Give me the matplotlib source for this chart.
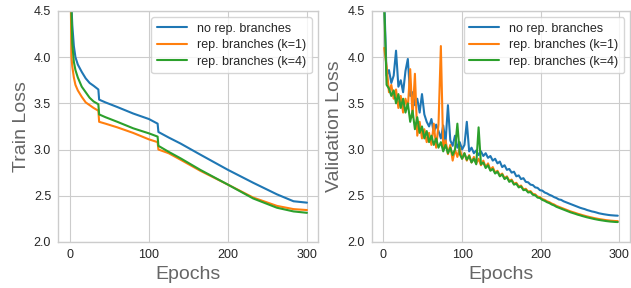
import matplotlib.pyplot as plt
import numpy as np

# Train loss (left panel) at key epochs
train_epochs = [1, 2, 3, 5, 7, 10, 15, 20, 25, 30, 36, 37, 45, 60, 80, 100,
                111, 112, 125, 140, 165, 200, 232, 262, 283, 300]
train_none = [4.95, 4.55, 4.35, 4.12, 4.0, 3.92, 3.84, 3.77, 3.72, 3.69, 3.65, 3.54,
              3.51, 3.46, 3.39, 3.33, 3.28, 3.19, 3.13, 3.065, 2.945, 2.78, 2.64,
              2.515, 2.44, 2.425]
train_k1 = [4.7, 4.0, 3.9, 3.78, 3.70, 3.64, 3.57, 3.51, 3.48, 3.45, 3.42, 3.30,
            3.28, 3.24, 3.18, 3.11, 3.08, 3.00, 2.96, 2.89, 2.77, 2.62, 2.48,
            2.39, 2.355, 2.345]
train_k4 = [4.9, 4.5, 4.15, 3.95, 3.86, 3.78, 3.68, 3.62, 3.56, 3.52, 3.49, 3.38,
            3.35, 3.30, 3.23, 3.175, 3.14, 3.04, 2.975, 2.905, 2.78, 2.62, 2.47,
            2.37, 2.33, 2.315]

# Validation loss (right panel), every 3rd epoch
val_epochs = list(range(1, 301, 3))
val_none = [4.62, 3.80, 3.86, 3.72, 3.80, 4.07, 3.68, 3.75, 3.62, 3.85,
            3.98, 3.58, 3.62, 3.48, 3.55, 3.40, 3.60, 3.38, 3.30, 3.25,
            3.33, 3.18, 3.27, 3.20, 3.12, 3.26, 3.08, 3.48, 3.10, 3.04,
            3.15, 3.02, 3.08, 3.00, 3.05, 3.30, 2.98, 3.02, 2.96, 2.99,
            2.94, 2.98, 2.93, 2.96, 2.91, 2.93, 2.88, 2.90, 2.85, 2.87,
            2.81, 2.83, 2.78, 2.79, 2.75, 2.76, 2.71, 2.72, 2.68, 2.69,
            2.65, 2.645, 2.62, 2.615, 2.59, 2.585, 2.56, 2.555, 2.535, 2.525,
            2.51, 2.50, 2.485, 2.475, 2.46, 2.455, 2.44, 2.43, 2.42, 2.41,
            2.40, 2.39, 2.38, 2.37, 2.362, 2.355, 2.345, 2.338, 2.33, 2.325,
            2.318, 2.31, 2.305, 2.30, 2.296, 2.292, 2.289, 2.287, 2.285, 2.284]
val_k1 = [4.10, 3.90, 3.62, 3.70, 3.55, 3.65, 3.45, 3.58, 3.40, 3.55,
          3.45, 3.87, 3.35, 3.82, 3.15, 3.30, 3.12, 3.22, 3.08, 3.18,
          3.05, 3.28, 3.02, 3.27, 4.12, 3.00, 3.10, 2.95, 3.05, 2.88,
          3.00, 2.92, 3.02, 2.90, 2.96, 2.88, 2.94, 2.86, 2.92, 2.85,
          2.90, 2.83, 2.88, 2.81, 2.85, 2.78, 2.81, 2.75, 2.77, 2.72,
          2.74, 2.69, 2.71, 2.66, 2.675, 2.63, 2.64, 2.60, 2.61, 2.57,
          2.575, 2.545, 2.55, 2.52, 2.515, 2.49, 2.485, 2.465, 2.455, 2.44,
          2.43, 2.415, 2.405, 2.39, 2.38, 2.37, 2.36, 2.35, 2.34, 2.33,
          2.322, 2.314, 2.305, 2.298, 2.29, 2.283, 2.276, 2.27, 2.264, 2.258,
          2.253, 2.248, 2.244, 2.24, 2.236, 2.233, 2.23, 2.228, 2.226, 2.225]
val_k4 = [4.55, 3.70, 3.66, 3.58, 3.64, 3.50, 3.60, 3.45, 3.55, 3.40,
          3.50, 3.30, 3.42, 3.22, 3.35, 3.18, 3.25, 3.12, 3.20, 3.08,
          3.15, 3.05, 3.12, 3.02, 3.08, 2.98, 3.05, 2.96, 3.02, 2.94,
          3.00, 3.28, 2.95, 2.90, 2.96, 2.89, 2.93, 2.86, 2.90, 2.84,
          3.24, 2.84, 2.86, 2.80, 2.83, 2.77, 2.79, 2.74, 2.76, 2.71,
          2.73, 2.68, 2.70, 2.65, 2.665, 2.62, 2.63, 2.59, 2.60, 2.56,
          2.565, 2.535, 2.54, 2.51, 2.505, 2.48, 2.475, 2.455, 2.445, 2.43,
          2.42, 2.405, 2.395, 2.38, 2.37, 2.36, 2.35, 2.34, 2.33, 2.32,
          2.312, 2.304, 2.295, 2.288, 2.28, 2.273, 2.266, 2.26, 2.254, 2.248,
          2.243, 2.238, 2.234, 2.23, 2.226, 2.223, 2.22, 2.218, 2.216, 2.215]

labels = ['no rep. branches', 'rep. branches (k=1)', 'rep. branches (k=4)']
colors = ['#1f77b4', '#ff7f0e', '#2ca02c']

plt.style.use('seaborn-v0_8-whitegrid')
plt.rcParams['font.family'] = ['Liberation Sans', 'DejaVu Sans']
fig = plt.figure(figsize=(6.31, 2.88), dpi=100)
ax1 = fig.add_axes([0.092, 0.160, 0.412, 0.802])
ax2 = fig.add_axes([0.589, 0.160, 0.410, 0.802])

for s, lab, c in zip([train_none, train_k1, train_k4], labels, colors):
    ax1.plot(train_epochs, s, color=c, lw=1.5, label=lab)
for s, lab, c in zip([val_none, val_k1, val_k4], labels, colors):
    ax2.plot(val_epochs, s, color=c, lw=1.5, label=lab)

for ax, yl in [(ax1, 'Train Loss'), (ax2, 'Validation Loss')]:
    ax.set_xlim(-15, 314)
    ax.set_ylim(2.0, 4.5)
    ax.set_xticks([0, 100, 200, 300])
    ax.set_yticks(np.arange(2.0, 4.51, 0.5))
    ax.set_yticklabels([f'{v:.1f}' for v in np.arange(2.0, 4.51, 0.5)])
    ax.tick_params(labelsize=9, colors='0.15', pad=5)
    ax.set_xlabel('Epochs', fontsize=14, color='0.4', labelpad=4)
    ax.set_ylabel(yl, fontsize=14, color='0.4', labelpad=3)
    for sp in ax.spines.values():
        sp.set_color('0.8')
    leg = ax.legend(loc='upper right', fontsize=9, frameon=True,
                    handlelength=2.4, borderpad=0.45, labelspacing=0.35)
    leg.get_frame().set_edgecolor('0.8')

fig.savefig('out.png', dpi=100)
